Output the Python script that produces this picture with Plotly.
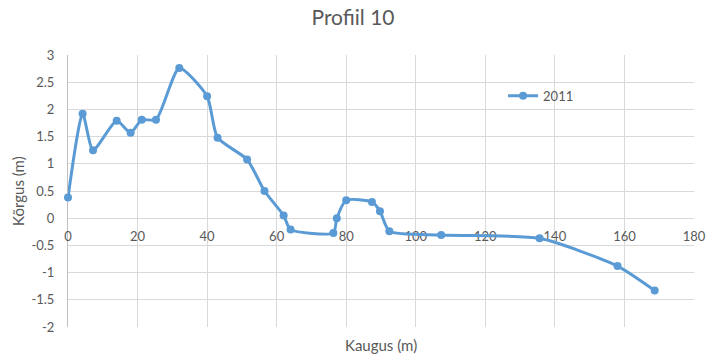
import plotly.graph_objects as go

# Data
kaugus = [0, 4.2, 7.2, 14, 18, 21.2, 25.3, 32, 40, 43, 51.5, 56.5, 62, 64,
          76.3, 77.3, 80, 87.4, 89.7, 92.4, 107.3, 135.6, 158, 168.7]
korgus = [0.38, 1.92, 1.25, 1.79, 1.57, 1.81, 1.81, 2.76, 2.24, 1.48, 1.08, 0.5, 0.05, -0.21,
          -0.27, 0.0, 0.33, 0.3, 0.13, -0.24, -0.31, -0.37, -0.88, -1.33]
series_name = "2011"
y_tickvals = [3, 2.5, 2, 1.5, 1, 0.5, 0, -0.5, -1, -1.5, -2]
y_ticktext = ["3", "2.5", "2", "1.5", "1", "0.5", "0", "-0.5", "-1", "-1.5", "-2"]
x_tickvals = [0, 20, 40, 60, 80, 100, 120, 140, 160, 180]
x_ticktext = ["0", "20", "40", "60", "80", "100", "120", "140", "160", "180"]

blue = "#5B9BD5"
grey = "#595959"
font = "Lato, Carlito, Calibri, sans-serif"

fig = go.Figure()
fig.add_trace(go.Scatter(
    x=kaugus, y=korgus, name=series_name, mode="lines+markers",
    line=dict(color=blue, width=3, shape="spline", smoothing=0.6),
    marker=dict(color=blue, size=8), cliponaxis=False,
))

fig.update_layout(
    width=706, height=354,
    margin=dict(l=68, r=12, t=55, b=27, autoexpand=False),
    paper_bgcolor="white", plot_bgcolor="white",
    font=dict(family=font, color=grey, size=13),
    title=dict(text="Profiil 10", x=0.5, xanchor="center", y=0.95, yanchor="middle",
               font=dict(size=21, color=grey, family=font)),
    showlegend=True,
    legend=dict(x=0.695, y=0.85, xanchor="left", yanchor="middle",
                bgcolor="rgba(0,0,0,0)", font=dict(size=13, color=grey)),
    xaxis=dict(range=[0, 180], tickvals=x_tickvals, ticktext=x_ticktext,
               showgrid=True, gridcolor="#D9D9D9", gridwidth=1,
               zeroline=False, showline=True, linecolor="#D9D9D9",
               anchor="free", position=0.4, ticks="", ticklen=0, automargin=False,
               layer="below traces",
               ticklabelstandoff=6, tickfont=dict(size=13, color=grey)),
    yaxis=dict(range=[-2, 3], tickvals=y_tickvals, ticktext=y_ticktext,
               showgrid=True, gridcolor="#D9D9D9", gridwidth=1,
               zeroline=False, showline=True, linecolor="#BFBFBF",
               ticks="", automargin=False, ticklabelstandoff=10, layer="below traces",
               tickfont=dict(size=13, color=grey)),
    annotations=[
        dict(text="Kaugus (m)", x=0.5, y=-0.025, xref="paper", yref="paper",
             xanchor="center", yanchor="top", showarrow=False,
             font=dict(size=15, color=grey)),
        dict(text="Kõrgus (m)", x=-0.08, y=0.5, xref="paper", yref="paper",
             xanchor="center", yanchor="middle", showarrow=False, textangle=-90,
             font=dict(size=15, color=grey)),
    ],
)

fig.write_html("out.html")
